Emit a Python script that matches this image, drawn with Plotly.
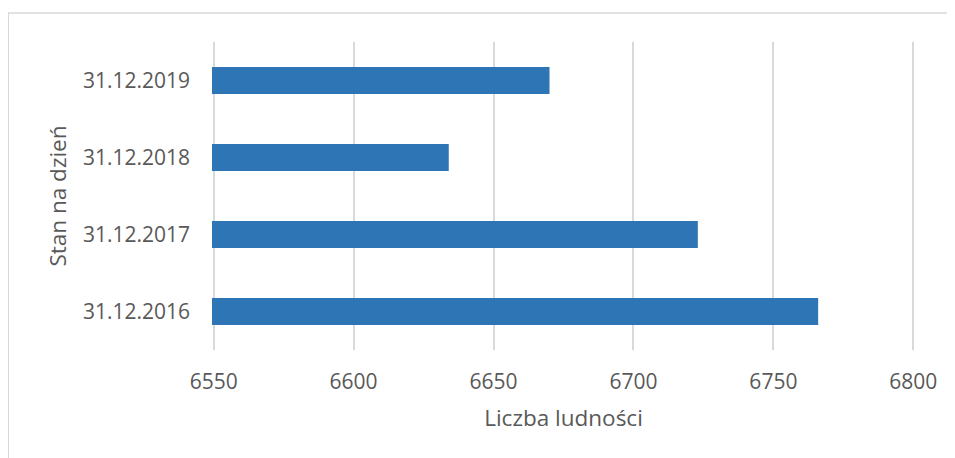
import plotly.graph_objects as go

categories = ["31.12.2016", "31.12.2017", "31.12.2018", "31.12.2019"]
values = [6766, 6723, 6634, 6670]
x_ticks = [6550, 6600, 6650, 6700, 6750, 6800]

FONT = "Open Sans"
TXT = "#595959"
GRID = "#d9d9d9"

# page body has an 8px margin, so the figure is sized/offset to compensate
W, H = 947, 450
L, R, T, B = 204.3, 40.3, 33.5, 108

fig = go.Figure(
    go.Bar(
        y=categories,
        x=values,
        orientation="h",
        width=0.35,
        marker=dict(color="#2E75B6", line=dict(width=0)),
    )
)

pw = W - L - R
ph = H - T - B

fig.update_layout(
    width=W,
    height=H,
    margin=dict(l=L, r=R, t=T, b=B, autoexpand=False),
    paper_bgcolor="white",
    plot_bgcolor="white",
    showlegend=False,
    font=dict(family=FONT, color=TXT, size=21),
    shapes=[
        dict(
            type="rect", xref="paper", yref="paper",
            x0=-(L - 0.75) / pw, x1=1.2, y0=-0.5, y1=1 + (T - 4.5) / ph,
            line=dict(color=GRID, width=1.5), fillcolor="rgba(0,0,0,0)",
            layer="below",
        )
    ],
)

fig.update_xaxes(
    range=[6549.4, 6800.6],
    tickvals=x_ticks,
    ticktext=[str(v) for v in x_ticks],
    showgrid=True,
    gridcolor=GRID,
    gridwidth=1.5,
    zeroline=False,
    showline=False,
    ticks="",
    ticklabelstandoff=17,
    tickfont=dict(family=FONT, size=21, color=TXT),
    title=dict(text="Liczba ludności", font=dict(family=FONT, size=22.5, color=TXT), standoff=16),
    automargin=False,
)

fig.update_yaxes(
    type="category",
    categoryorder="array",
    categoryarray=categories,
    showgrid=False,
    zeroline=False,
    showline=False,
    ticks="",
    ticklabelstandoff=21,
    tickfont=dict(family=FONT, size=21, color=TXT),
    title=dict(text="Stan na dzień", font=dict(family=FONT, size=22.5, color=TXT), standoff=10),
    automargin=False,
)

fig.write_html("out.html")
